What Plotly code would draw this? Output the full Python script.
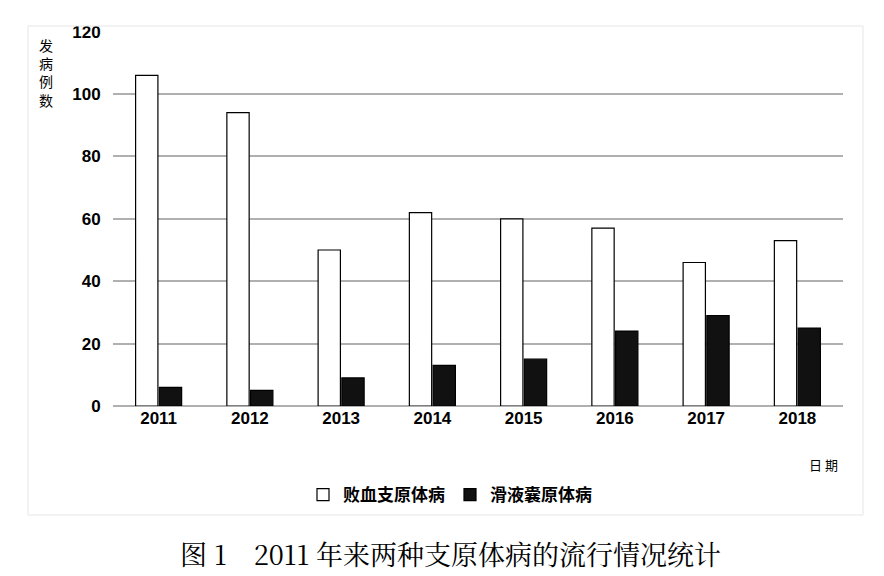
import plotly.graph_objects as go

years = ["2011", "2012", "2013", "2014", "2015", "2016", "2017", "2018"]
baixue = [106, 94, 50, 62, 60, 57, 46, 53]
huaye = [6, 5, 9, 13, 15, 24, 29, 25]
y_ticks = [0, 20, 40, 60, 80, 100, 120]

font = "Noto Sans CJK SC"
fig = go.Figure()
fig.add_bar(x=years, y=baixue, name="<b>败血支原体病</b>", marker=dict(color="white", line=dict(color="black", width=1.2)))
fig.add_bar(x=years, y=huaye, name="<b>滑液囊原体病</b>", marker=dict(color="#111111", line=dict(color="black", width=1.2)))

fig.update_layout(
    width=884, height=576, paper_bgcolor="white", plot_bgcolor="white",
    margin=dict(l=0, r=0, t=0, b=0),
    font=dict(family=font, color="black", size=16),
    barmode="group", bargap=0.48, bargroupgap=0.06,
    xaxis=dict(domain=[105/884, 835/884], showline=False, ticks="", automargin=False,
               tickfont=dict(size=17, family="Liberation Sans", weight="bold")),
    yaxis=dict(domain=[(576-398)/576, (576-23.6)/576], range=[0, 120], tickvals=y_ticks, automargin=False,
               showgrid=True, gridcolor="#b0b0b0", gridwidth=1.5, zeroline=True, zerolinecolor="#b0b0b0",
               zerolinewidth=1.5, tickfont=dict(size=17, family="Liberation Sans", weight="bold"),
               ticklen=8, ticks="outside", tickcolor="white"),
    legend=dict(orientation="h", x=0.5, xanchor="center", y=(576-487)/576, yanchor="middle",
                font=dict(size=17), itemwidth=30, traceorder="normal"),
    showlegend=True,
)
fig.add_annotation(text="发<br>病<br>例<br>数", xref="paper", yref="paper", x=38/884, y=(576-25)/576,
                   xanchor="center", yanchor="top", showarrow=False, font=dict(size=14))
fig.add_annotation(text="日 期", xref="paper", yref="paper", x=815/884, y=(576-456)/576,
                   xanchor="center", yanchor="middle", showarrow=False, font=dict(size=13))
fig.add_annotation(text="图 1　2011 年来两种支原体病的流行情况统计", xref="paper", yref="paper",
                   x=0.5, y=(576-545)/576, xanchor="center", yanchor="middle", showarrow=False,
                   font=dict(size=27, family="Noto Serif CJK SC, Noto Sans CJK SC"))
fig.add_shape(type="rect", xref="paper", yref="paper", x0=20/884, x1=855/884, y0=(576-507)/576, y1=(576-18)/576,
              line=dict(color="#e6e6e6", width=1))
fig.write_html("out.html")
